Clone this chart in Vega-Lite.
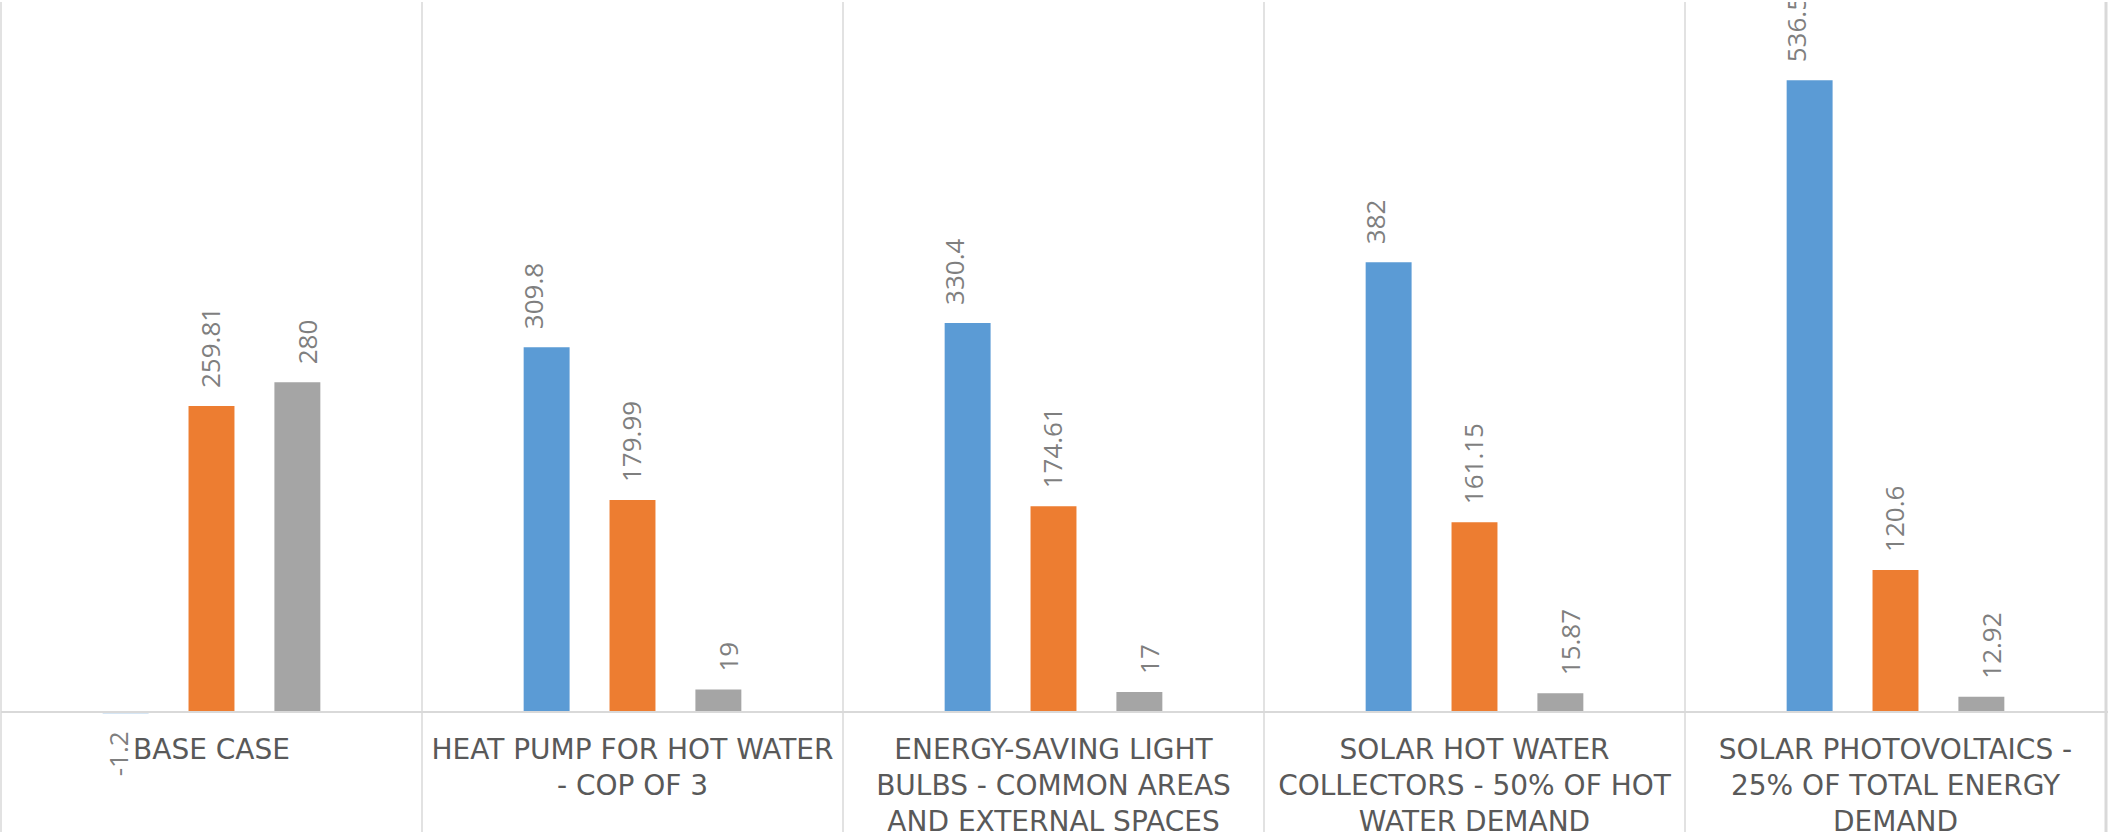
{
  "$schema": "https://vega.github.io/schema/vega-lite/v6.json",
  "width": 2108,
  "height": 834,
  "autosize": {"type": "fit", "contains": "padding"},
  "padding": 0,
  "background": "white",
  "config": {"view": {"stroke": null}},
  "datasets": {
    "bars": [
      {"cat": "Base case", "s": "Series 1", "v": -1.2},
      {"cat": "Base case", "s": "Series 2", "v": 259.81},
      {"cat": "Base case", "s": "Series 3", "v": 280},
      {"cat": "Heat pump for hot water - COP of 3", "s": "Series 1", "v": 309.8},
      {"cat": "Heat pump for hot water - COP of 3", "s": "Series 2", "v": 179.99},
      {"cat": "Heat pump for hot water - COP of 3", "s": "Series 3", "v": 19},
      {"cat": "Energy-saving light bulbs - common areas and external spaces", "s": "Series 1", "v": 330.4},
      {"cat": "Energy-saving light bulbs - common areas and external spaces", "s": "Series 2", "v": 174.61},
      {"cat": "Energy-saving light bulbs - common areas and external spaces", "s": "Series 3", "v": 17},
      {"cat": "Solar hot water collectors - 50% of hot water demand", "s": "Series 1", "v": 382},
      {"cat": "Solar hot water collectors - 50% of hot water demand", "s": "Series 2", "v": 161.15},
      {"cat": "Solar hot water collectors - 50% of hot water demand", "s": "Series 3", "v": 15.87},
      {"cat": "Solar photovoltaics - 25% of total energy demand", "s": "Series 1", "v": 536.5},
      {"cat": "Solar photovoltaics - 25% of total energy demand", "s": "Series 2", "v": 120.6},
      {"cat": "Solar photovoltaics - 25% of total energy demand", "s": "Series 3", "v": 12.92}
    ],
    "cats": [
      {"cat": "Base case", "label": "BASE CASE", "last": false},
      {"cat": "Heat pump for hot water - COP of 3", "label": "HEAT PUMP FOR HOT WATER\n- COP OF 3", "last": false},
      {"cat": "Energy-saving light bulbs - common areas and external spaces", "label": "ENERGY-SAVING LIGHT\nBULBS - COMMON AREAS\nAND EXTERNAL SPACES", "last": false},
      {"cat": "Solar hot water collectors - 50% of hot water demand", "label": "SOLAR HOT WATER\nCOLLECTORS - 50% OF HOT\nWATER DEMAND", "last": false},
      {"cat": "Solar photovoltaics - 25% of total energy demand", "label": "SOLAR PHOTOVOLTAICS -\n25% OF TOTAL ENERGY\nDEMAND", "last": true}
    ]
  },
  "resolve": {"scale": {"x": "independent", "xOffset": "independent"}},
  "layer": [
    {
      "data": {"name": "cats"},
      "mark": {"type": "rule", "color": "#d9d9d9", "strokeWidth": 1.5},
      "encoding": {
        "x": {"field": "cat", "type": "nominal", "sort": null, "axis": null, "bandPosition": 0, "scale": {"paddingInner": 0, "paddingOuter": 0}}
      }
    },
    {
      "data": {"name": "cats"},
      "mark": {"type": "rule", "color": "#d9d9d9", "strokeWidth": 3},
      "encoding": {
        "x": {"field": "cat", "type": "nominal", "sort": null, "axis": null, "bandPosition": 1, "scale": {"paddingInner": 0, "paddingOuter": 0}},
        "opacity": {"condition": {"test": "datum.last", "value": 1}, "value": 0}
      }
    },
    {
      "data": {"name": "bars"},
      "mark": {"type": "bar"},
      "encoding": {
        "x": {"field": "cat", "type": "nominal", "sort": null, "axis": null, "scale": {"paddingInner": 0.075, "paddingOuter": 0.0375}},
        "xOffset": {"field": "s", "type": "nominal", "scale": {"paddingInner": 0.465, "paddingOuter": 1}},
        "y": {"field": "v", "type": "quantitative", "axis": null, "scale": {"domain": [-102, 603], "nice": false, "zero": false}},
        "color": {"field": "s", "type": "nominal", "legend": null, "scale": {"domain": ["Series 1", "Series 2", "Series 3"], "range": ["#5B9BD5", "#ED7D31", "#A5A5A5"]}}
      }
    },
    {
      "data": {"name": "bars"},
      "mark": {"type": "rule", "color": "#d9d9d9", "strokeWidth": 2},
      "encoding": {
        "x": {"value": 0},
        "x2": {"value": 2108},
        "y": {"datum": 0, "type": "quantitative"}
      }
    },
    {
      "data": {"name": "bars"},
      "transform": [{"filter": "datum.v >= 0"}],
      "mark": {"type": "text", "angle": 270, "align": "left", "baseline": "middle", "dx": 18, "dy": 0, "font": "Open Sans", "fontSize": 26, "color": "#7f7f7f", "clip": true},
      "encoding": {
        "x": {"field": "cat", "type": "nominal", "sort": null, "axis": null, "scale": {"paddingInner": 0.075, "paddingOuter": 0.0375}},
        "xOffset": {"field": "s", "type": "nominal", "scale": {"paddingInner": 0.465, "paddingOuter": 1}},
        "y": {"field": "v", "type": "quantitative"},
        "text": {"field": "v", "type": "nominal"}
      }
    },
    {
      "data": {"name": "bars"},
      "transform": [{"filter": "datum.v < 0"}],
      "mark": {"type": "text", "angle": 270, "align": "right", "baseline": "middle", "dx": -18, "dy": 6, "font": "Open Sans", "fontSize": 26, "color": "#7f7f7f", "clip": true},
      "encoding": {
        "x": {"field": "cat", "type": "nominal", "sort": null, "axis": null, "scale": {"domain": ["Base case", "Heat pump for hot water - COP of 3", "Energy-saving light bulbs - common areas and external spaces", "Solar hot water collectors - 50% of hot water demand", "Solar photovoltaics - 25% of total energy demand"], "paddingInner": 0.075, "paddingOuter": 0.0375}},
        "xOffset": {"field": "s", "type": "nominal", "scale": {"domain": ["Series 1", "Series 2", "Series 3"], "paddingInner": 0.465, "paddingOuter": 1}},
        "y": {"field": "v", "type": "quantitative"},
        "text": {"field": "v", "type": "nominal"}
      }
    },
    {
      "data": {"name": "cats"},
      "mark": {"type": "text", "align": "center", "baseline": "top", "dy": 25, "lineBreak": "\n", "lineHeight": 36, "font": "DejaVu Sans", "fontSize": 28, "color": "#595959", "clip": true},
      "encoding": {
        "x": {"field": "cat", "type": "nominal", "sort": null, "axis": null, "scale": {"paddingInner": 0, "paddingOuter": 0}},
        "y": {"datum": 0, "type": "quantitative"},
        "text": {"field": "label", "type": "nominal"}
      }
    }
  ]
}
